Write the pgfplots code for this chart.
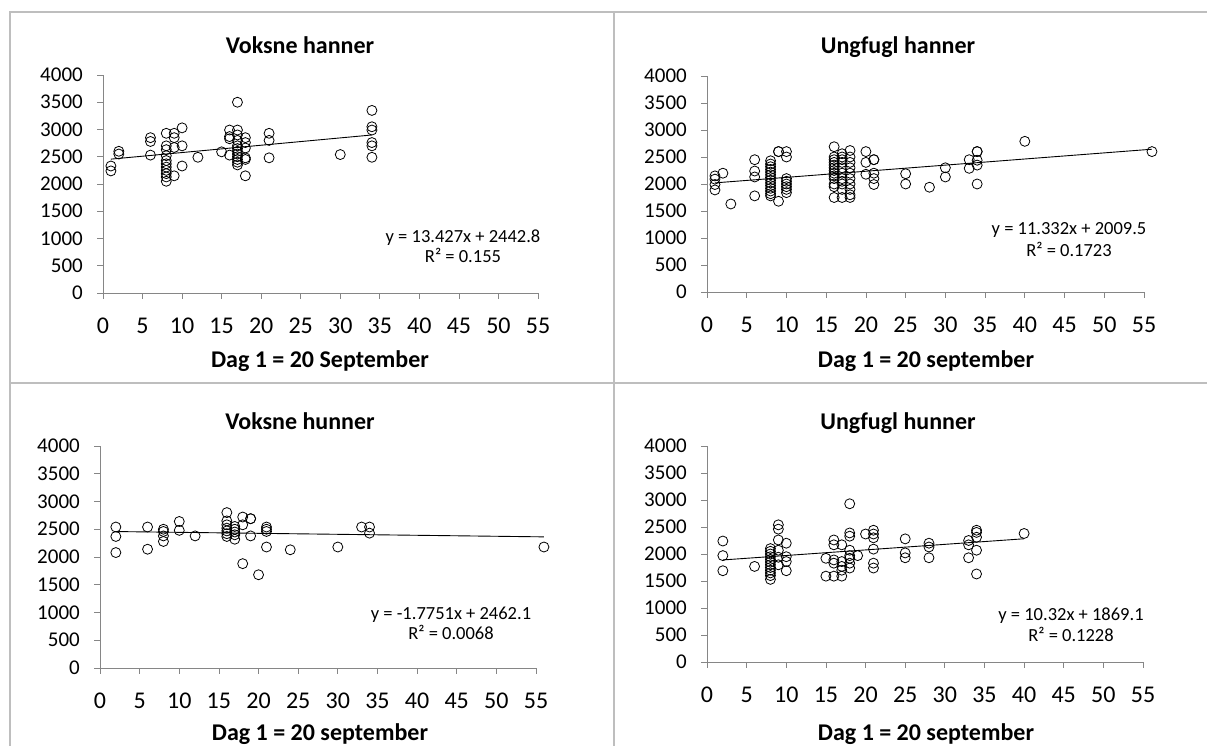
\documentclass[border=0pt]{standalone}
\usepackage{fontspec}
\setmainfont{Carlito}
\usepackage{pgfplots}
\pgfplotsset{compat=1.18}
\definecolor{axgray}{RGB}{134,134,134}
\definecolor{boxgray}{RGB}{190,190,190}
\pgfplotsset{
  excel/.style={
    scale only axis, clip=false,
    xmin=0, xmax=55, ymin=0, ymax=4000,
    xtick={0,5,...,55}, ytick={0,500,...,4000},
    axis x line*=bottom, axis y line*=left,
    axis line style={draw=axgray, line width=0.8pt, -},
    tick style={draw=axgray, line width=0.8pt},
    major tick length=6pt, tick align=outside,
    /pgf/number format/assume math mode=true,
    /pgf/number format/1000 sep={},
    xticklabel style={font=\fontsize{24}{24}\selectfont, inner sep=0pt, anchor=north, yshift=-19pt},
    yticklabel style={font=\fontsize{21}{21}\selectfont, inner sep=0pt, anchor=east, xshift=-14pt},
  },
  pts/.style={only marks, mark=o, mark size=5pt, mark options={line width=0.8pt, draw=black}},
  trend/.style={black, line width=0.9pt, no marks},
}
\begin{document}
\begin{tikzpicture}
\path[use as bounding box, fill=white] (0,0) rectangle (1207pt,746pt);

% ---------- Voksne hanner ----------
\begin{axis}[excel, at={(103pt,453pt)}, anchor=south west, width=435pt, height=218pt]
\addplot[pts] table {
x y
1 2330
1 2240
2 2600
2 2550
6 2850
6 2780
6 2530
8 2930
8 2700
8 2630
8 2520
8 2430
8 2370
8 2310
8 2250
8 2190
8 2130
8 2050
9 2930
9 2850
9 2670
9 2150
10 3030
10 2700
10 2330
12 2490
15 2590
16 2990
16 2870
16 2830
16 2530
17 3500
17 2990
17 2900
17 2800
17 2700
17 2650
17 2600
17 2550
17 2500
17 2450
17 2400
17 2350
18 2850
18 2760
18 2660
18 2480
18 2450
18 2150
21 2930
21 2800
21 2480
30 2540
34 3350
34 3050
34 2990
34 2760
34 2700
34 2490
};
\addplot[trend] coordinates {(1,2456.2) (34,2899.3)};
\end{axis}

% ---------- Ungfugl hanner ----------
\begin{axis}[excel, at={(707pt,454pt)}, anchor=south west, width=437pt, height=216pt]
\addplot[pts] table {
x y
1 2150
1 2090
1 1990
1 1890
2 2200
3 1630
6 2450
6 2240
6 2130
6 1780
8 2430
8 2370
8 2320
8 2270
8 2220
8 2170
8 2120
8 2070
8 2020
8 1970
8 1920
8 1870
8 1820
8 1780
9 2600
9 2600
9 1680
10 2600
10 2500
10 2100
10 2050
10 2000
10 1950
10 1900
10 1840
16 2690
16 2500
16 2450
16 2400
16 2350
16 2300
16 2250
16 2200
16 2150
16 2100
16 2000
16 1950
16 1750
17 2560
17 2500
17 2450
17 2400
17 2300
17 2200
17 2100
17 2050
17 2000
17 1900
17 1750
18 2620
18 2500
18 2400
18 2300
18 2200
18 2100
18 2000
18 1900
18 1800
18 1750
20 2600
20 2400
20 2180
21 2450
21 2450
21 2200
21 2100
21 1990
25 2190
25 2000
28 1940
30 2300
30 2130
33 2450
33 2290
34 2600
34 2600
34 2440
34 2350
34 2000
40 2790
56 2600
};
\addplot[trend] coordinates {(1,2020.8) (56,2644.1)};
\end{axis}

% ---------- Voksne hunner ----------
\begin{axis}[excel, at={(100pt,78pt)}, anchor=south west, width=436pt, height=222pt]
\addplot[pts] table {
x y
2 2540
2 2370
2 2080
6 2540
6 2140
8 2500
8 2460
8 2380
8 2280
10 2640
10 2480
12 2380
16 2800
16 2650
16 2580
16 2520
16 2470
16 2420
16 2370
17 2550
17 2500
17 2450
17 2400
17 2320
18 2720
18 2580
18 1880
19 2690
19 2690
19 2380
20 1680
21 2540
21 2500
21 2460
21 2180
24 2130
30 2180
33 2540
34 2540
34 2430
56 2180
};
\addplot[trend] coordinates {(2,2458.55) (56,2362.7)};
\end{axis}

% ---------- Ungfugl hunner ----------
\begin{axis}[excel, at={(707pt,84pt)}, anchor=south west, width=436pt, height=216pt]
\addplot[pts] table {
x y
2 2240
2 1970
2 1690
6 1770
8 2100
8 2050
8 2000
8 1950
8 1900
8 1850
8 1800
8 1750
8 1700
8 1650
8 1600
8 1530
9 2540
9 2460
9 2260
9 2070
9 1940
9 1800
10 2200
10 1950
10 1860
10 1690
15 1920
15 1590
16 2260
16 2170
16 1890
16 1830
16 1590
17 2170
17 1860
17 1770
17 1700
17 1590
18 2930
18 2390
18 2330
18 2070
18 1970
18 1920
18 1830
18 1740
19 1970
20 2370
21 2440
21 2370
21 2300
21 2090
21 1830
21 1740
25 2280
25 2020
25 1930
28 2200
28 2130
28 1930
33 2250
33 2170
33 1930
34 2440
34 2400
34 2310
34 2070
34 1630
40 2380
};
\addplot[trend] coordinates {(2,1889.74) (40,2281.9)};
\end{axis}

% ---------- frames and texts (pixel coordinates, y downwards) ----------
\begin{scope}[x=1pt, y=-1pt, yshift=746pt]
\draw[boxgray, line width=1.2pt] (10,12) rectangle (614,383);
\draw[boxgray, line width=1.2pt] (614,12) -- (1207,12);
\draw[boxgray, line width=1.2pt] (614,383) -- (1207,383);
\draw[boxgray, line width=1.2pt] (10,383) -- (10,746);
\draw[boxgray, line width=1.2pt] (614,383) -- (614,746);

\begin{scope}[every node/.style={inner sep=0pt, anchor=base, font=\fontsize{24}{24}\selectfont\bfseries}]
\node at (300,54) {Voksne hanner};
\node at (898,54) {Ungfugl hanner};
\node at (300,430) {Voksne hunner};
\node at (898,430) {Ungfugl hunner};
\node at (320,368) {Dag 1 = 20 September};
\node at (926,368) {Dag 1 = 20 september};
\node at (320,741) {Dag 1 = 20 september};
\node at (926,741) {Dag 1 = 20 september};
\end{scope}

\begin{scope}[every node/.style={inner sep=0pt, anchor=base, font=\fontsize{18.5}{18.5}\selectfont}]
\node at (463,243) {y = 13.427x + 2442.8};
\node at (463,263) {R² = 0.155};
\node at (1069,235) {y = 11.332x + 2009.5};
\node at (1069,257) {R² = 0.1723};
\node at (451,620) {y = -1.7751x + 2462.1};
\node at (451,640) {R² = 0.0068};
\node at (1071,621) {y = 10.32x + 1869.1};
\node at (1071,642) {R² = 0.1228};
\end{scope}
\end{scope}
\end{tikzpicture}
\end{document}
